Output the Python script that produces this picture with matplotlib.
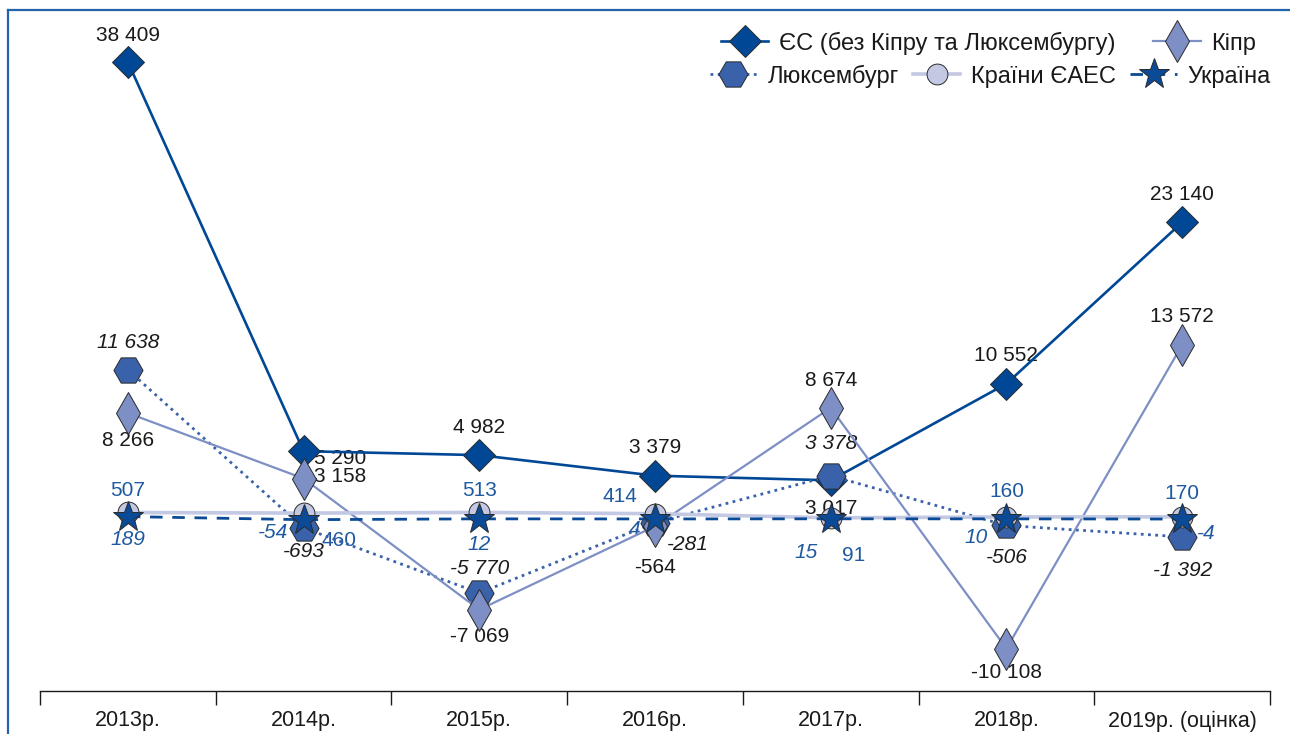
import numpy as np
import matplotlib
matplotlib.use('Agg')
import matplotlib.pyplot as plt
from matplotlib.lines import Line2D

plt.rcParams['font.family'] = ['Liberation Sans', 'DejaVu Sans']

# --- data ---
years = ['2013р.', '2014р.', '2015р.', '2016р.', '2017р.', '2018р.', '2019р. (оцінка)']
eu = [38409, 5290, 4982, 3379, 3017, 10552, 23140]
cyprus = [8266, 3158, -7069, -564, 8674, -10108, 13572]
luxembourg = [11638, -693, -5770, -281, 3378, -506, -1392]
eaeu = [507, 460, 513, 414, 91, 160, 170]
ukraine = [189, -54, 12, 4, 15, 10, -4]

names = ['ЄС (без Кіпру та Люксембургу)', 'Кіпр', 'Люксембург', 'Країни ЄАЕС', 'Україна']

# label offsets in pixels (dx, dy with y downward, as read on the picture)
offsets = {
    'eu': [(0, -27), (37, 7), (0, -28), (0, -28), (0, 28), (0, -28), (0, -28)],
    'cy': [(0, 27), (37, -2), (0, 27), (0, 41), (0, -27), (0, 24), (0, -28)],
    'lu': [(0, -27), (0, 24), (0, -24), (33, 22), (0, -32), (0, 32), (0, 34)],
    'ea': [(0, -22), (35, 27), (0, -22), (-35, -17), (23, 38), (0, -25), (0, -23)],
    'ua': [(0, 23), (-31, 13), (0, 26), (-20, 11), (-25, 34), (-30, 19), (24, 14)],
}

def fmt(v):
    s = '{:,}'.format(abs(v)).replace(',', ' ')
    return ('-' if v < 0 else '') + s

# compressed scale above 23 140 so the 2013 peak fits
T = 23140
K = 0.819

def fwd(v):
    v = np.asarray(v, dtype=float)
    return np.where(v > T, T + (v - T) * K, v)

def inv(v):
    v = np.asarray(v, dtype=float)
    return np.where(v > T, T + (v - T) / K, v)

fig = plt.figure(figsize=(12.9, 7.34), dpi=100)
ax = fig.add_axes([40 / 1290, 43 / 734, 1230 / 1290, 681 / 734])
ax.set_yscale('function', functions=(fwd, inv))
x = np.arange(len(years))

c_eu = '#004795'
c_cy = '#7d8fc4'
c_lu = '#3a62aa'
c_ea = '#c3c8e3'
c_ua = '#0a4a96'
blue_txt = '#1f5aa0'
edge = '#2a2a2a'

l_eu, = ax.plot(x, eu, color=c_eu, lw=1.9, marker='D', ms=16, mfc=c_eu, mec=edge, mew=0.7, zorder=4)
l_lu, = ax.plot(x, luxembourg, color=c_lu, lw=2.0, ls=(0, (1, 1.6)), marker='H', ms=21,
                mfc=c_lu, mec=edge, mew=0.7, zorder=5)
l_cy, = ax.plot(x, cyprus, color=c_cy, lw=1.6, marker='d', ms=21, mfc=c_cy, mec=edge, mew=0.7, zorder=6)
l_ea, = ax.plot(x, eaeu, color=c_ea, lw=2.6, marker='o', ms=15, mfc=c_ea, mec=edge, mew=0.7, zorder=7)
l_ua, = ax.plot(x, ukraine, color=c_ua, lw=2.0, ls=(0, (4.5, 3.5)), marker='*', ms=23,
                mfc=c_ua, mec=edge, mew=0.7, zorder=8)

series = [
    (eu, 'eu', '#1a1a1a', 'normal'),
    (cyprus, 'cy', '#1a1a1a', 'normal'),
    (luxembourg, 'lu', '#1a1a1a', 'italic'),
    (eaeu, 'ea', blue_txt, 'normal'),
    (ukraine, 'ua', blue_txt, 'italic'),
]
for vals, key, col, style in series:
    for i, v in enumerate(vals):
        dx, dy = offsets[key][i]
        ax.annotate(fmt(v), (x[i], v), xytext=(dx, -dy), textcoords='offset pixels',
                    ha='center', va='center', fontsize=15, color=col, style=style, zorder=3)

ax.set_xlim(-0.5, len(years) - 0.5)
ax.set_ylim(-13416, 43362)
ax.set_yticks([])
ax.set_xticks(x)
ax.set_xticklabels(years, fontsize=15.5, color='#1a1a1a')
ax.set_xticks(np.arange(len(years) + 1) - 0.5, minor=True)
ax.tick_params(axis='x', which='major', length=0, pad=14)
ax.tick_params(axis='x', which='minor', length=10, width=1, direction='out', color='#1a1a1a')
for s in ['top', 'left', 'right']:
    ax.spines[s].set_visible(False)
ax.spines['bottom'].set_color('#1a1a1a')
ax.spines['bottom'].set_linewidth(1.0)
ax.patch.set_alpha(0)

# legend in two rows
leg_kw = dict(loc='center right', frameon=False, fontsize=17, handlelength=2.0,
              handletextpad=0.45, borderpad=0, borderaxespad=0)
leg1 = fig.legend([l_eu, l_cy], names[:2], ncol=2, columnspacing=1.6,
                  bbox_to_anchor=(1256 / 1290, 1 - 43 / 734), **leg_kw)
leg2 = fig.legend([l_lu, l_ea, l_ua], names[2:], ncol=3, columnspacing=0.6,
                  bbox_to_anchor=(1271 / 1290, 1 - 76 / 734), **leg_kw)
for t in leg1.get_texts() + leg2.get_texts():
    t.set_color('#1a1a1a')

# blue frame (top and left edges)
frame_c = '#2462aa'
fig.add_artist(Line2D([8 / 1290, 8 / 1290], [0, 1 - 10 / 734], color=frame_c, lw=1.6,
                      transform=fig.transFigure))
fig.add_artist(Line2D([8 / 1290, 1], [1 - 10 / 734, 1 - 10 / 734], color=frame_c, lw=1.6,
                      transform=fig.transFigure))

plt.savefig('out.png', dpi=100)
plt.close()
